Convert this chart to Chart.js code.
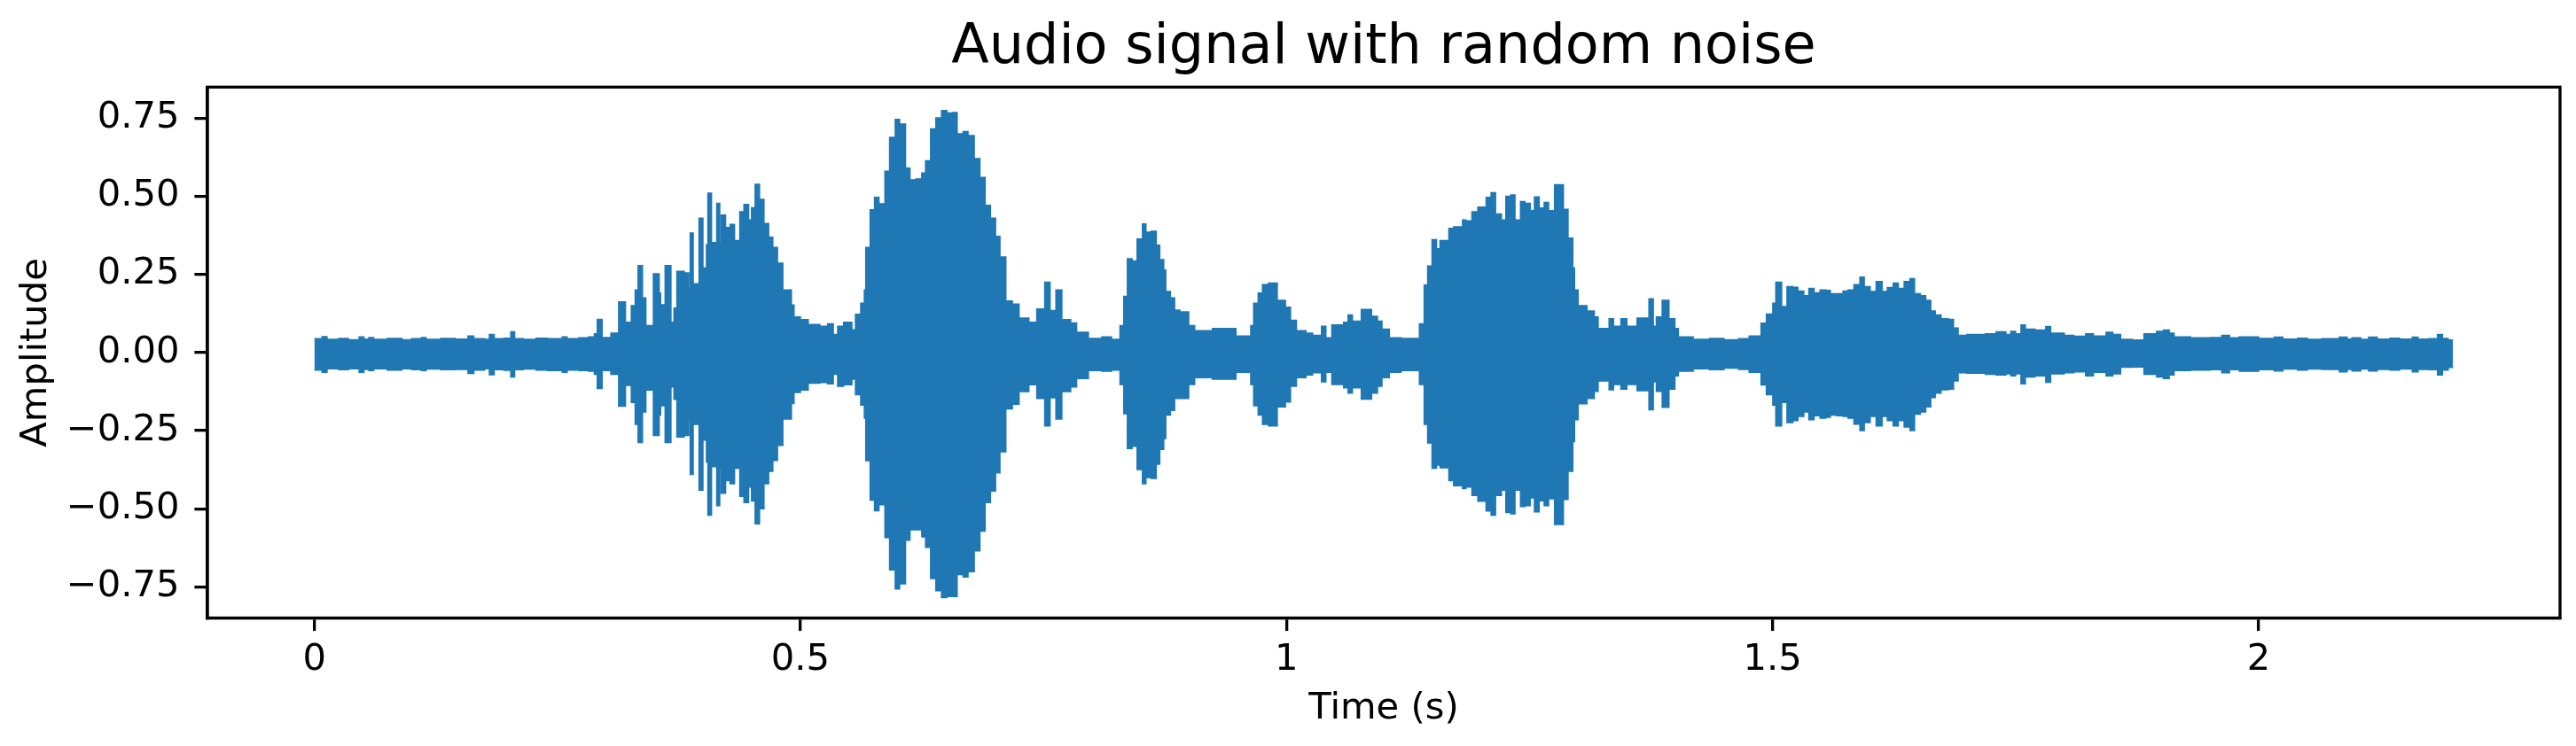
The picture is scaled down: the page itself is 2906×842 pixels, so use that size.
<!DOCTYPE html>
<html>
<head>
<meta charset="utf-8">
<script src="https://cdn.jsdelivr.net/npm/chart.js@4.4.1/dist/chart.umd.min.js"></script>
<style>
html, body { margin: 0; padding: 0; background: #ffffff; }
canvas { display: block; }
</style>
</head>
<body>
<canvas id="c" width="2906" height="842" style="width:2906px;height:842px"></canvas>
<script>
// Segment start times (s) of the waveform envelope
const time = [
0.000,0.008,0.013,0.025,0.035,0.046,0.051,0.056,0.061,0.075,0.090,0.100,0.110,0.115,0.130,0.145,0.158,0.164,0.175,0.180,
0.185,0.195,0.202,0.206,0.215,0.228,0.240,0.255,0.260,0.272,0.282,0.288,0.291,0.296,0.305,0.313,0.320,0.326,0.330,0.333,
0.3375,0.3410,0.3487,0.3547,0.3562,0.3608,0.3668,0.3699,0.3729,0.3805,0.3851,0.3866,0.3897,0.3957,0.3997,0.4033,0.4048,0.4085,0.4139,0.4170,
0.4185,0.4230,0.4276,0.4322,0.4376,0.4419,0.4467,0.4497,0.4534,0.4579,0.4625,0.4673,0.4716,0.4764,0.4819,0.4907,0.4934,0.5000,0.5080,0.5200,
0.5280,0.5338,0.5383,0.5444,0.5529,0.5566,0.5620,0.5657,0.5672,0.5717,0.5762,0.5808,0.5869,0.5917,0.5975,0.6020,0.6081,0.6127,0.6187,0.6248,
0.6287,0.6339,0.6393,0.6451,0.6506,0.6566,0.6612,0.6673,0.6724,0.6788,
0.6846,0.6900,0.6955,0.7007,0.7052,0.7113,0.7180,0.7249,0.7350,0.7431,0.7513,0.7568,0.7628,0.7689,0.7780,0.7841,0.7962,0.8100,0.8200,0.8287,
0.8326,0.8363,0.8411,0.8463,0.8518,0.8554,0.8606,0.8660,0.8696,0.8737,0.8758,0.8806,0.8849,0.8903,0.8994,0.9055,0.9237,0.9480,0.9632,0.9662,
0.9708,0.9753,0.9814,0.9905,0.9989,1.0041,1.0102,1.0200,
1.0269,1.0360,1.0405,1.0466,1.0587,1.0633,1.0678,1.0769,1.0875,1.0936,1.0982,1.1058,1.1179,1.1367,1.1416,1.1452,1.1497,1.1543,1.1579,1.1670,
1.1719,1.1810,1.1846,1.1907,1.1968,1.2053,1.2104,1.2150,1.2211,1.2256,1.2307,1.2350,1.2407,1.2453,1.2508,1.2550,1.2599,1.2650,1.2696,1.2757,
1.2848,1.2896,1.2945,1.2963,1.2999,1.3090,1.3166,1.3206,1.3318,1.3364,1.3440,1.3501,1.3606,
1.3728,1.3773,1.3804,1.3864,1.3934,1.3995,1.4031,1.4183,1.4350,1.4500,1.4650,1.4759,1.4881,1.4936,1.5002,1.5033,1.5093,1.5148,1.5209,1.5260,
1.5321,1.5373,1.5427,1.5488,1.5549,1.5594,1.5655,1.5725,1.5776,1.5837,1.5898,1.5943,1.6004,1.6065,1.6126,1.6180,1.6241,1.6293,1.6353,1.6414,
1.6460,1.6520,1.6575,1.6627,1.6673,1.6733,1.6809,1.6861,1.6909,
1.7000,1.7190,1.7300,1.7400,1.7450,1.7500,1.7555,1.7600,1.7700,1.7810,1.7860,1.8000,1.8100,1.8220,1.8300,1.8430,1.8500,1.8580,1.8700,1.8820,
1.8950,1.9020,1.9080,1.9130,1.9300,1.9500,1.9620,1.9700,1.9800,2.0000,2.0160,2.0250,2.0400,2.0500,2.0650,2.0830,2.0910,2.0960,2.1050,2.1130,
2.1220,2.1350,2.1450,2.1580,2.1640,2.1750,2.1840,2.1890,2.1950,2.2000
];

// Upper envelope (max amplitude) for each segment
const upper = [
0.044,0.051,0.042,0.045,0.041,0.050,0.043,0.048,0.042,0.045,0.041,0.044,0.048,0.042,0.045,0.043,0.053,0.044,0.042,0.058,
0.044,0.046,0.066,0.044,0.042,0.046,0.044,0.050,0.044,0.047,0.050,0.060,0.106,0.048,0.062,0.162,0.097,0.150,0.200,0.278,
0.175,0.086,0.252,0.190,0.153,0.278,0.097,0.142,0.260,0.255,0.200,0.382,0.220,0.430,0.270,0.345,0.510,0.352,0.477,0.352,
0.440,0.400,0.410,0.358,0.450,0.474,0.424,0.463,0.538,0.490,0.413,0.369,0.336,0.286,0.200,0.152,0.114,0.105,0.090,0.084,
0.092,0.058,0.084,0.097,0.073,0.122,0.158,0.200,0.336,0.457,0.496,0.476,0.580,0.688,0.746,0.731,0.590,0.552,0.555,0.574,
0.613,0.715,0.751,0.774,0.766,0.768,0.700,0.707,0.694,0.620,
0.560,0.471,0.430,0.372,0.306,0.165,0.155,0.110,0.097,0.139,0.225,0.134,0.200,0.105,0.095,0.065,0.045,0.050,0.042,0.086,
0.180,0.300,0.293,0.363,0.411,0.385,0.388,0.343,0.297,0.264,0.195,0.175,0.136,0.130,0.086,0.070,0.077,0.053,0.086,0.158,
0.190,0.217,0.222,0.167,0.145,0.103,0.070,0.062,
0.055,0.084,0.047,0.088,0.097,0.120,0.100,0.138,0.116,0.100,0.075,0.047,0.045,0.092,0.216,0.277,0.361,0.332,0.358,0.397,
0.402,0.424,0.421,0.450,0.465,0.496,0.511,0.443,0.424,0.500,0.504,0.424,0.483,0.477,0.454,0.498,0.462,0.480,0.454,0.537,
0.458,0.366,0.270,0.200,0.150,0.133,0.114,0.077,0.108,0.084,0.108,0.084,0.110,
0.172,0.084,0.114,0.167,0.108,0.077,0.050,0.042,0.045,0.041,0.044,0.053,0.094,0.123,0.158,0.225,0.147,0.211,0.209,0.197,
0.182,0.205,0.191,0.200,0.199,0.188,0.188,0.197,0.200,0.217,0.241,0.211,0.195,0.227,0.195,0.208,0.222,0.205,0.227,0.236,
0.188,0.182,0.167,0.133,0.120,0.108,0.106,0.078,0.055,
0.058,0.060,0.066,0.058,0.068,0.060,0.088,0.075,0.072,0.083,0.062,0.055,0.052,0.060,0.053,0.065,0.058,0.042,0.040,0.060,
0.068,0.072,0.062,0.050,0.047,0.048,0.055,0.047,0.050,0.045,0.049,0.043,0.046,0.042,0.044,0.049,0.043,0.047,0.042,0.049,
0.043,0.046,0.043,0.049,0.043,0.044,0.058,0.045,0.040,0.040
];

// Lower envelope (min amplitude) for each segment
const lower = [
-0.056,-0.063,-0.052,-0.055,-0.052,-0.063,-0.054,-0.058,-0.052,-0.056,-0.052,-0.055,-0.058,-0.053,-0.055,-0.054,-0.067,-0.056,-0.052,-0.071,
-0.055,-0.057,-0.078,-0.055,-0.053,-0.056,-0.058,-0.063,-0.056,-0.058,-0.060,-0.070,-0.115,-0.058,-0.070,-0.172,-0.105,-0.160,-0.230,-0.288,
-0.190,-0.120,-0.265,-0.200,-0.170,-0.288,-0.110,-0.150,-0.270,-0.265,-0.210,-0.390,-0.230,-0.440,-0.280,-0.350,-0.520,-0.365,-0.490,-0.370,
-0.450,-0.410,-0.420,-0.370,-0.460,-0.480,-0.430,-0.475,-0.548,-0.500,-0.420,-0.380,-0.345,-0.297,-0.213,-0.163,-0.128,-0.120,-0.098,-0.096,
-0.100,-0.070,-0.108,-0.103,-0.085,-0.135,-0.168,-0.210,-0.346,-0.472,-0.506,-0.487,-0.592,-0.695,-0.756,-0.740,-0.600,-0.567,-0.567,-0.590,
-0.623,-0.723,-0.762,-0.784,-0.780,-0.780,-0.710,-0.718,-0.701,-0.634,
-0.571,-0.480,-0.443,-0.385,-0.318,-0.180,-0.165,-0.125,-0.103,-0.147,-0.235,-0.145,-0.213,-0.125,-0.110,-0.083,-0.058,-0.060,-0.056,-0.102,
-0.196,-0.307,-0.300,-0.374,-0.420,-0.400,-0.403,-0.357,-0.310,-0.275,-0.200,-0.185,-0.147,-0.147,-0.102,-0.080,-0.085,-0.063,-0.102,-0.170,
-0.200,-0.230,-0.235,-0.174,-0.158,-0.108,-0.080,-0.072,
-0.065,-0.094,-0.063,-0.102,-0.113,-0.130,-0.113,-0.149,-0.130,-0.108,-0.080,-0.063,-0.058,-0.102,-0.230,-0.289,-0.370,-0.360,-0.369,-0.410,
-0.426,-0.435,-0.430,-0.457,-0.476,-0.507,-0.520,-0.457,-0.440,-0.512,-0.516,-0.440,-0.493,-0.490,-0.465,-0.510,-0.474,-0.490,-0.468,-0.550,
-0.470,-0.380,-0.285,-0.215,-0.164,-0.147,-0.124,-0.091,-0.119,-0.102,-0.117,-0.102,-0.122,
-0.183,-0.094,-0.124,-0.175,-0.117,-0.075,-0.060,-0.052,-0.055,-0.050,-0.054,-0.063,-0.104,-0.135,-0.168,-0.235,-0.160,-0.224,-0.218,-0.204,
-0.190,-0.215,-0.202,-0.210,-0.207,-0.200,-0.202,-0.204,-0.210,-0.229,-0.250,-0.224,-0.204,-0.235,-0.204,-0.218,-0.235,-0.218,-0.238,-0.250,
-0.197,-0.190,-0.174,-0.144,-0.130,-0.119,-0.117,-0.091,-0.065,
-0.066,-0.070,-0.072,-0.068,-0.075,-0.068,-0.100,-0.078,-0.075,-0.095,-0.068,-0.065,-0.062,-0.075,-0.063,-0.075,-0.068,-0.047,-0.046,-0.070,
-0.078,-0.083,-0.072,-0.058,-0.056,-0.055,-0.065,-0.055,-0.060,-0.055,-0.059,-0.053,-0.056,-0.053,-0.054,-0.062,-0.054,-0.059,-0.053,-0.059,
-0.054,-0.056,-0.053,-0.062,-0.054,-0.055,-0.072,-0.056,-0.048,-0.048
];

const xTickValues = [0, 0.5, 1, 1.5, 2];
const xTickLabels = ['0', '0.5', '1', '1.5', '2'];
const yTickValues = [-0.75, -0.5, -0.25, 0, 0.25, 0.5, 0.75];
const yTickLabels = ['\u22120.75', '\u22120.50', '\u22120.25', '0.00', '0.25', '0.50', '0.75'];

const BLUE = '#1f77b4';
const FONT = 'DejaVu Sans';

const framePlugin = {
  id: 'frame',
  afterDatasetsDraw(chart) {
    const { ctx, chartArea: a } = chart;
    ctx.save();
    ctx.strokeStyle = '#000000';
    ctx.lineWidth = 3.3;
    ctx.strokeRect(a.left, a.top, a.right - a.left, a.bottom - a.top);
    ctx.restore();
  }
};

const envelope = (vals) => time.map((t, i) => ({ x: t, y: vals[i] }));

new Chart(document.getElementById('c'), {
  type: 'line',
  data: {
    datasets: [
      { data: envelope(upper), stepped: true, fill: 'origin', borderColor: BLUE, backgroundColor: BLUE, borderWidth: 1.5, pointRadius: 0 },
      { data: envelope(lower), stepped: true, fill: 'origin', borderColor: BLUE, backgroundColor: BLUE, borderWidth: 1.5, pointRadius: 0 }
    ]
  },
  options: {
    responsive: false,
    devicePixelRatio: 1,
    animation: false,
    events: [],
    layout: { padding: { left: 0, right: 18, top: 0, bottom: 0 } },
    plugins: {
      legend: { display: false },
      tooltip: { enabled: false },
      title: {
        display: true,
        text: 'Audio signal with random noise',
        color: '#000000',
        fullSize: false,
        font: { family: FONT, size: 62, weight: 'normal', lineHeight: 1.2 },
        padding: { top: 17.3, bottom: 6.6 }
      }
    },
    scales: {
      x: {
        type: 'linear',
        min: -0.11,
        max: 2.31,
        afterBuildTicks: (s) => { s.ticks = xTickValues.map(v => ({ value: v })); },
        afterFit: (s) => { s.height = 144.5; },
        grid: { drawOnChartArea: false, drawTicks: true, tickLength: 14.6, tickWidth: 3.3, tickColor: '#000000', color: '#000000', lineWidth: 3.3 },
        border: { display: true, color: '#000000', width: 3.3 },
        ticks: {
          color: '#000000', padding: 8, autoSkip: false, maxRotation: 0, minRotation: 0,
          font: { family: FONT, size: 41.67, lineHeight: 1.2 },
          callback: (v, i) => xTickLabels[i]
        },
        title: {
          display: true, text: 'Time (s)', color: '#000000',
          font: { family: FONT, size: 41.67, lineHeight: 1.2 },
          padding: { top: 0, bottom: 17 }
        }
      },
      y: {
        type: 'linear',
        min: -0.849,
        max: 0.849,
        afterBuildTicks: (s) => { s.ticks = yTickValues.map(v => ({ value: v })); },
        afterFit: (s) => { s.width = 234; },
        grid: { drawOnChartArea: false, drawTicks: true, tickLength: 14.6, tickWidth: 3.3, tickColor: '#000000', color: '#000000', lineWidth: 3.3 },
        border: { display: true, color: '#000000', width: 3.3 },
        ticks: {
          color: '#000000', padding: 17, autoSkip: false,
          font: { family: FONT, size: 41.67, lineHeight: 1.2 },
          callback: (v, i) => yTickLabels[i]
        },
        title: {
          display: true, text: 'Amplitude', color: '#000000',
          font: { family: FONT, size: 41.67, lineHeight: 1.2 },
          padding: { top: 16, bottom: 0 }
        }
      }
    }
  },
  plugins: [framePlugin]
});
</script>
</body>
</html>
